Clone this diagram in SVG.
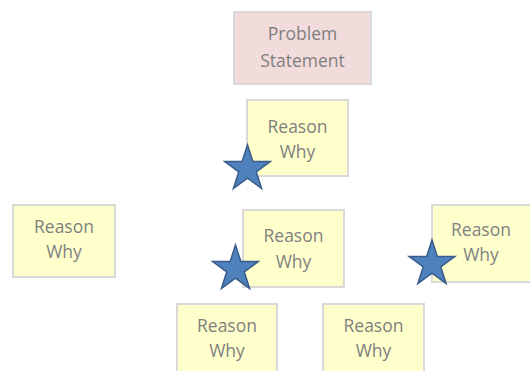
<svg xmlns="http://www.w3.org/2000/svg" width="530" height="371" viewBox="0 0 530 371">
<style>
.box{fill:#ffffcc;stroke:#d9d9d9;stroke-width:2}
.ps{fill:#f2dcdb;stroke:#d9d9d9;stroke-width:2}
.t{font-family:"Open Sans","DejaVu Sans",sans-serif;font-size:17.5px;fill:#7f7f7f;text-anchor:middle}
.star{fill:#4f81bd;stroke:#385d8a;stroke-width:1.5}
</style>
<defs>
<path id="star" d="M0,-24 L5.39,-7.42 L22.83,-7.42 L8.72,2.83 L14.11,19.42 L0,9.17 L-14.11,19.42 L-8.72,2.83 L-22.83,-7.42 L-5.39,-7.42 Z"/>
</defs>
<rect width="530" height="371" fill="#ffffff"/>
<g id="problem">
<rect class="ps" x="234" y="12" width="137" height="72"/>
<text class="t" x="302.5" y="40">Problem</text>
<text class="t" x="302.5" y="67">Statement</text>
</g>
<g id="reason-top">
<rect class="box" x="247" y="100" width="101" height="76"/>
<text class="t" x="297.5" y="133">Reason</text>
<text class="t" x="297.5" y="158">Why</text>
</g>
<g id="reason-left">
<rect class="box" x="13" y="205" width="102" height="72"/>
<text class="t" x="64" y="233">Reason</text>
<text class="t" x="64" y="258">Why</text>
</g>
<g id="reason-mid">
<rect class="box" x="243" y="210" width="101" height="77"/>
<text class="t" x="293.5" y="242">Reason</text>
<text class="t" x="293.5" y="268">Why</text>
</g>
<g id="reason-right">
<rect class="box" x="432" y="205" width="100" height="77"/>
<text class="t" x="481" y="236">Reason</text>
<text class="t" x="481" y="261">Why</text>
</g>
<g id="reason-bottom-left">
<rect class="box" x="177" y="304" width="100" height="80"/>
<text class="t" x="227" y="332">Reason</text>
<text class="t" x="227" y="357">Why</text>
</g>
<g id="reason-bottom-right">
<rect class="box" x="323" y="304" width="101" height="80"/>
<text class="t" x="373.5" y="332">Reason</text>
<text class="t" x="373.5" y="357">Why</text>
</g>
<g id="stars">
<use href="#star" class="star" x="247.5" y="169"/>
<use href="#star" class="star" x="235.5" y="269"/>
<use href="#star" class="star" x="432" y="264"/>
</g>
<g id="connectors"></g>
</svg>
